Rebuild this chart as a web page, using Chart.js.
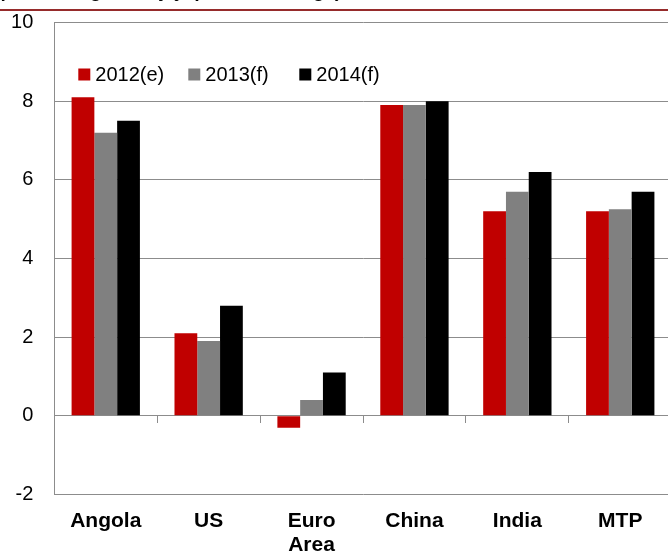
<!DOCTYPE html>
<html><head><meta charset="utf-8">
<script src="https://cdn.jsdelivr.net/npm/chart.js@4"></script>
<style>
html,body{margin:0;padding:0;background:#fff;overflow:hidden;width:668px;height:554px;}
#wrap{position:relative;width:668px;height:554px;overflow:hidden;background:#fff;}
#title{position:absolute;left:0;top:-19px;font:italic bold 19px "Liberation Sans",Arial,sans-serif;line-height:19px;white-space:nowrap;color:#000;}
#rule{position:absolute;left:0;top:9px;width:668px;height:2px;background:#962b2b;}
canvas{position:absolute;left:0;top:0;}
</style></head><body>
<div id="wrap">
<canvas id="c" width="680" height="554"></canvas>
<div id="title">(real GDP growth y/y, percent change)</div>
<div id="rule"></div>
</div>
<script>
const categories = ['Angola', 'US', ['Euro', 'Area'], 'China', 'India', 'MTP'];
const seriesLabels = ['2012(e)', '2013(f)', '2014(f)'];
const values2012 = [8.1, 2.1, -0.3, 7.9, 5.2, 5.2];
const values2013 = [7.2, 1.9, 0.4, 7.9, 5.7, 5.25];
const values2014 = [7.5, 2.8, 1.1, 8.0, 6.2, 5.7];
const yTicks = [-2, 0, 2, 4, 6, 8, 10];
const seriesColors = ['#c00000', '#808080', '#000000'];

const FONT = '"Liberation Sans", Arial, sans-serif';
const GRID = '#8c8c8c';

const inlineLegend = {
  id: 'inlineLegend',
  afterDraw(chart) {
    const ctx = chart.ctx;
    const left = chart.chartArea.left;
    const offsets = [24, 134, 245];
    const y = 74.5;
    ctx.save();
    ctx.font = '20px ' + FONT;
    ctx.textBaseline = 'middle';
    ctx.textAlign = 'left';
    chart.data.datasets.forEach((ds, i) => {
      const x = left + offsets[i];
      ctx.fillStyle = ds.backgroundColor;
      ctx.fillRect(x, y - 6, 12, 12);
      ctx.fillStyle = '#000';
      ctx.fillText(ds.label, x + 17, y + 1);
    });
    ctx.restore();
  }
};

const datasets = [values2012, values2013, values2014].map((vals, i) => ({
  label: seriesLabels[i],
  data: vals,
  backgroundColor: seriesColors[i],
  borderWidth: 0,
  xAxisID: 'x',
  yAxisID: 'y',
  barPercentage: 1,
  categoryPercentage: 0.664
}));

new Chart(document.getElementById('c'), {
  type: 'bar',
  data: { labels: categories, datasets },
  plugins: [inlineLegend],
  options: {
    responsive: false,
    animation: false,
    devicePixelRatio: 1,
    layout: { padding: { left: 0, top: 22.5, right: 8.3, bottom: 0 } },
    plugins: { legend: { display: false }, tooltip: { enabled: false }, title: { display: false } },
    scales: {
      x: {
        type: 'category',
        axis: 'x',
        position: { y: 0 },
        offset: true,
        grid: { display: true, drawOnChartArea: false, drawTicks: true, tickLength: 7, color: GRID, offset: true },
        border: { display: true, color: GRID, width: 1 },
        ticks: { display: false }
      },
      xb: {
        type: 'category',
        axis: 'x',
        position: 'bottom',
        offset: true,
        grid: { display: false, drawTicks: false },
        border: { display: false },
        ticks: {
          color: '#000',
          font: { family: FONT, size: 21, weight: 'bold', lineHeight: 1.15 },
          padding: 14.5,
          maxRotation: 0,
          autoSkip: false
        },
        afterFit(s) { s.height = 59.5; }
      },
      y: {
        min: -2,
        max: 10,
        afterBuildTicks(s) { s.ticks = yTicks.map(v => ({ value: v })); },
        ticks: { color: '#000', font: { family: FONT, size: 20 }, padding: 21 },
        grid: { color: GRID, drawTicks: false, lineWidth: 1 },
        border: { display: true, color: GRID, width: 1 },
        afterFit(s) { s.width = 54.3; s.paddingTop = 0; s.paddingBottom = 0; }
      }
    }
  }
});
</script>
</body></html>
